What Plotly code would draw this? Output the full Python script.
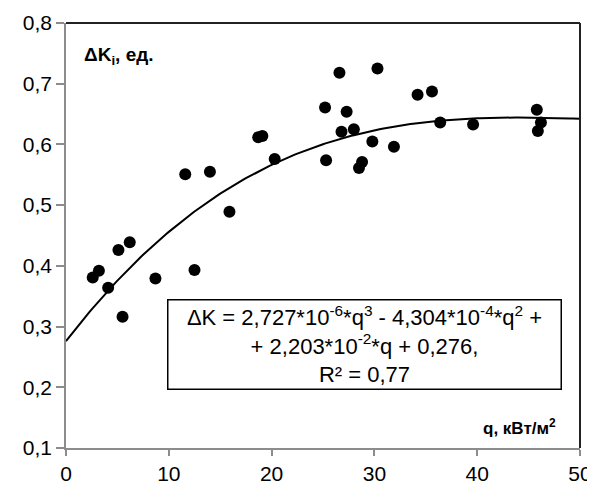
import numpy as np
import plotly.graph_objects as go

# Measured points: heat flux q (kW/m2) and ΔK_i
q_vals = [2.6, 3.2, 4.1, 5.1, 6.2, 5.5, 8.7, 12.5, 11.6, 14.0, 15.9, 18.7, 19.1, 20.3,
          26.6, 30.3, 25.2, 27.3, 26.8, 28.0, 25.3, 28.5, 28.8, 29.8, 31.9, 34.2, 35.6,
          36.4, 39.6, 45.8, 46.2, 45.9]
dk_vals = [0.381, 0.392, 0.364, 0.426, 0.439, 0.316, 0.379, 0.393, 0.551, 0.555, 0.489,
           0.612, 0.614, 0.576, 0.718, 0.725, 0.661, 0.654, 0.621, 0.625, 0.574, 0.561,
           0.571, 0.605, 0.596, 0.682, 0.687, 0.636, 0.633, 0.657, 0.636, 0.622]

# Trendline coefficients as printed on the chart (cubic, highest power first)
trend_coefs = [2.727e-6, -4.304e-4, 2.203e-2, 0.276]
x_ticks = [0, 10, 20, 30, 40, 50]
y_ticks = [0.1, 0.2, 0.3, 0.4, 0.5, 0.6, 0.7, 0.8]

qq = np.linspace(0, 50, 201)
trend = np.polyval(trend_coefs, qq)

FONT = "Liberation Sans, Arial, sans-serif"

fig = go.Figure()
fig.add_trace(go.Scatter(x=qq, y=trend, mode="lines",
                         line=dict(color="black", width=2), hoverinfo="skip"))
fig.add_trace(go.Scatter(x=q_vals, y=dk_vals, mode="markers",
                         marker=dict(color="black", size=12, line=dict(width=0))))

# page body has an 8px margin, so the figure is sized to fit the 595x484 window
fig.update_layout(
    width=587, height=476,
    margin=dict(l=58, r=15, t=15, b=36),
    paper_bgcolor="white", plot_bgcolor="white",
    showlegend=False,
    separators=", ",
    font=dict(family=FONT, color="black", size=21),
)
fig.update_xaxes(range=[0, 50], tickvals=x_ticks, showgrid=False, zeroline=False,
                 automargin=False,
                 showline=True, linecolor="#8c8c8c", linewidth=1.5,
                 ticks="outside", ticklen=6, tickcolor="#8c8c8c", tickwidth=1.5,
                 tickfont=dict(size=21, family=FONT, color="black"))
fig.update_yaxes(range=[0.1, 0.8], tickvals=y_ticks, tickformat=".1f", showgrid=False,
                 automargin=False,
                 zeroline=False, showline=True, linecolor="#8c8c8c", linewidth=1.5,
                 ticks="outside", ticklen=8, tickcolor="#8c8c8c", tickwidth=1.5,
                 tickfont=dict(size=21, family=FONT, color="black"))

# top and right borders (dark)
fig.add_shape(type="line", xref="paper", yref="paper", x0=0, x1=1, y0=1, y1=1,
              line=dict(color="#222222", width=2))
fig.add_shape(type="line", xref="paper", yref="paper", x0=1, x1=1, y0=0, y1=1,
              line=dict(color="#222222", width=2))

fig.add_annotation(xref="paper", yref="paper", x=0.031, y=0.923, xanchor="left", yanchor="middle",
                   text="<b>ΔK<sub>i</sub>, ед.</b>", showarrow=False,
                   font=dict(size=19, family=FONT))
fig.add_annotation(xref="paper", yref="paper", x=0.957, y=0.05, xanchor="right", yanchor="middle",
                   text="<b>q, кВт/м<sup>2</sup></b>", showarrow=False,
                   font=dict(size=17, family=FONT))

eq_text = ("ΔK = 2,727*10<sup>-6</sup>*q<sup>3</sup> - 4,304*10<sup>-4</sup>*q<sup>2</sup> +<br>"
           "+ 2,203*10<sup>-2</sup>*q + 0,276,<br>R² = 0,77")
fig.add_annotation(xref="x", yref="y", x=29.06, y=0.27, xanchor="center", yanchor="middle",
                   text=eq_text, showarrow=False, align="center",
                   width=386, height=82,
                   bordercolor="black", borderwidth=1.5, borderpad=3, bgcolor="white",
                   font=dict(size=22, family=FONT))

fig.write_html("out.html")
